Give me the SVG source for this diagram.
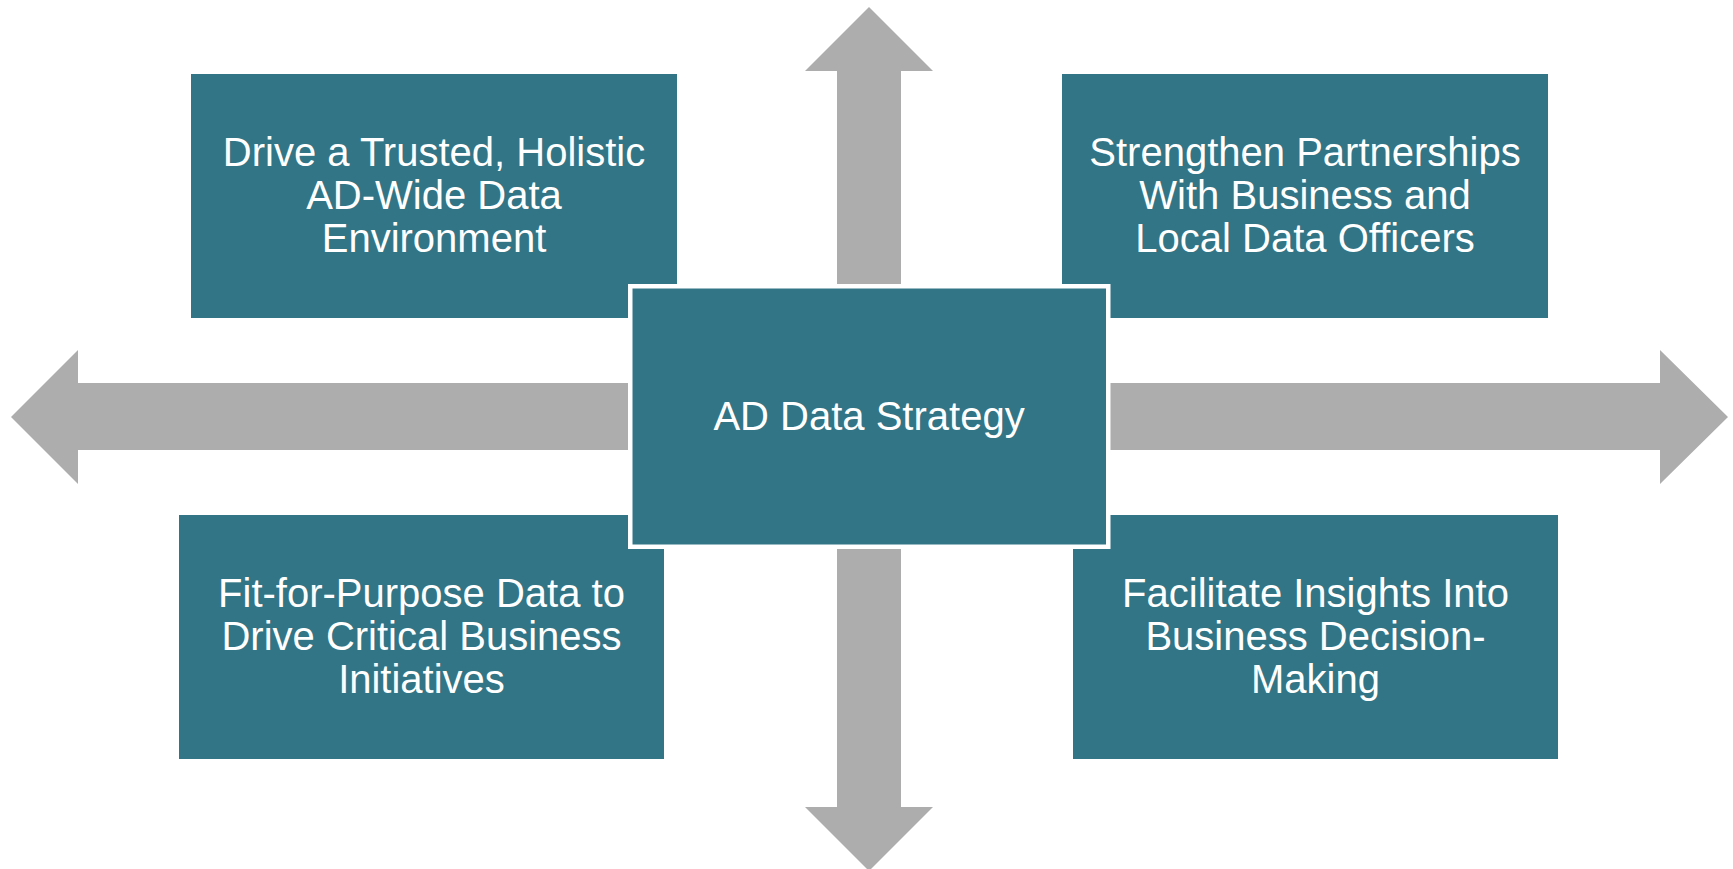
<svg xmlns="http://www.w3.org/2000/svg" width="1733" height="869" viewBox="0 0 1733 869">
<style>
.box{fill:#317586;}
.center{fill:#317586;stroke:#ffffff;stroke-width:4.5;}
.arrow{fill:#adadad;}
text{font-family:"Liberation Sans",Arial,sans-serif;font-size:40px;fill:#ffffff;text-anchor:middle;}
</style>
<rect width="1733" height="869" fill="#ffffff"/>
<g id="connectors">
<polygon class="arrow" points="869,7 933,71 901,71 901,300 837,300 837,71 805,71"/>
<polygon class="arrow" points="869,871 933,807 901,807 901,530 837,530 837,807 805,807"/>
<polygon class="arrow" points="11,417 78,350 78,383 650,383 650,450 78,450 78,484"/>
<polygon class="arrow" points="1728,417 1660,350 1660,383 1090,383 1090,450 1660,450 1660,484"/>
</g>
<g id="node-top-left">
<rect class="box" x="191" y="74" width="486" height="244"/>
<text x="434" y="166">Drive a Trusted, Holistic</text>
<text x="434" y="209">AD-Wide Data</text>
<text x="434" y="252">Environment</text>
</g>
<g id="node-top-right">
<rect class="box" x="1062" y="74" width="486" height="244"/>
<text x="1305" y="166">Strengthen Partnerships</text>
<text x="1305" y="209">With Business and</text>
<text x="1305" y="252">Local Data Officers</text>
</g>
<g id="node-bottom-left">
<rect class="box" x="179" y="515" width="485" height="244"/>
<text x="421.5" y="607">Fit-for-Purpose Data to</text>
<text x="421.5" y="650">Drive Critical Business</text>
<text x="421.5" y="693">Initiatives</text>
</g>
<g id="node-bottom-right">
<rect class="box" x="1073" y="515" width="485" height="244"/>
<text x="1315.5" y="607">Facilitate Insights Into</text>
<text x="1315.5" y="650">Business Decision-</text>
<text x="1315.5" y="693">Making</text>
</g>
<g id="node-center">
<rect class="center" x="630.25" y="286.25" width="478" height="260.5"/>
<text x="869" y="430">AD Data Strategy</text>
</g>
</svg>
